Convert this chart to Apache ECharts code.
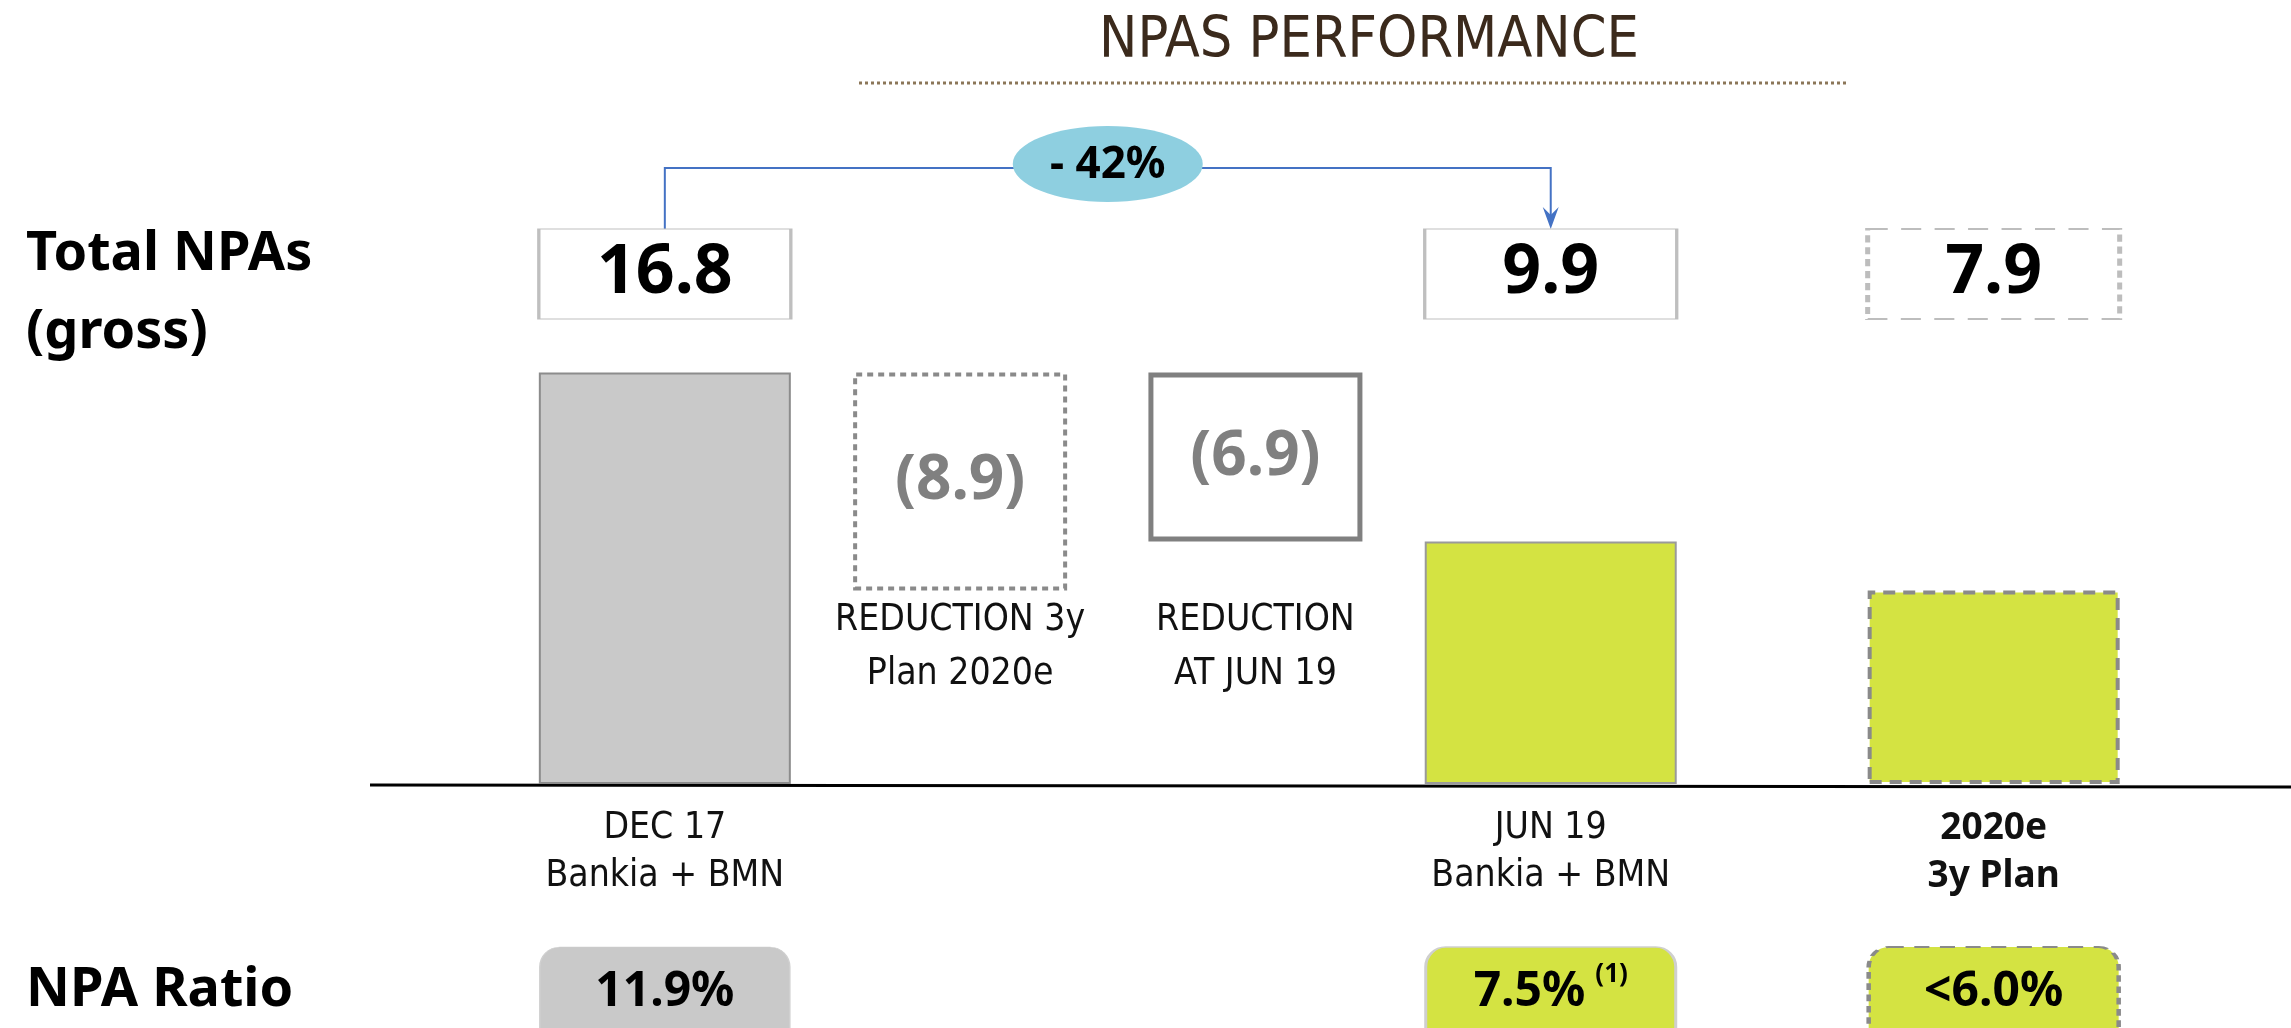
<!DOCTYPE html>
<html>
<head>
<meta charset="utf-8">
<title>NPAs performance</title>
<script src="https://cdn.jsdelivr.net/npm/echarts@6/dist/echarts.min.js"></script>
<style>
  html, body { margin: 0; padding: 0; background: #fff; }
  #chart { width: 2291px; height: 1028px; }
</style>
</head>
<body>
<div id="chart"></div>
<script>
// ============ Data ============
const periods = ['DEC 17\nBankia + BMN', 'JUN 19\nBankia + BMN', '2020e\n3y Plan']
const totalNPAs = [16.8, 9.9, 7.9]
const reductionLabels = ['REDUCTION 3y\nPlan 2020e', 'REDUCTION\nAT JUN 19']
const reductions = [8.9, 6.9]
const npaRatio = ['11.9%', '7.5%', '<6.0%']
const ratioNotes = ['', '(1)', '']
const changeLabel = '- 42%'

// ============ Layout ============
// bars sit on a 10-slot band axis so the uneven spacing of the slide is kept
const SLOTS = 10
const periodSlots = [0, 6, 9]
const reductionSlots = [2, 4]
const PLOT_LEFT = 591
const PLOT_WIDTH = 1476.5
const BASE_Y = 784
const Y_MAX = 20
const UNIT_PX = 24.5

const NARROW = "'Liberation Sans Narrow', 'DejaVu Sans Condensed', sans-serif"
const BOLD = "'Noto Sans', 'DejaVu Sans', sans-serif"

const GREY = '#c9c9c9'
const GREEN = '#d4e342'

// rounded box used for the NPA ratio pills (runs off the bottom edge)
const ROUND_BOX = 'path://M20,0 H230 A20,20 0 0 1 250,20 V90 A20,20 0 0 1 230,110 H20 A20,20 0 0 1 0,90 V20 A20,20 0 0 1 20,0 Z'

const periodBarStyle = [
  { color: GREY, borderColor: '#8c8c8c', borderWidth: 2 },
  { color: GREEN, borderColor: '#9a9a9a', borderWidth: 2 },
  { color: GREEN, borderColor: '#8a8a8a', borderWidth: 4, borderType: [12, 8] },
]
const reductionStyle = [
  { color: '#fff', borderColor: '#8a8a8a', borderWidth: 4, borderType: [6, 5] },
  { color: '#fff', borderColor: '#808080', borderWidth: 5 },
]
const valueBoxStyle = [
  { color: '#fff', borderColor: '#bfbfbf', borderWidth: 2, opacity: 1 },
  { color: '#fff', borderColor: '#bfbfbf', borderWidth: 2, opacity: 1 },
  { color: '#fff', borderColor: '#bdbdbd', borderWidth: 3, borderType: [12, 8], opacity: 1 },
]
const ratioBoxStyle = [
  { color: GREY, borderColor: '#d0d0d0', borderWidth: 1, opacity: 1 },
  { color: GREEN, borderColor: '#cfcfcf', borderWidth: 2, opacity: 1 },
  { color: GREEN, borderColor: '#8a8a8a', borderWidth: 3, borderType: [10, 7], opacity: 1 },
]

function slotData(slots, labels, styles) {
  const arr = Array.from({ length: SLOTS }, () => '')
  slots.forEach((s, i) => {
    arr[s] = styles ? { value: labels[i], textStyle: styles[i] } : labels[i]
  })
  return arr
}

const hiddenCategory = (gridIndex) => ({
  type: 'category',
  gridIndex,
  data: slotData([], []),
  axisLine: { show: false },
  axisTick: { show: false },
  axisLabel: { show: false },
})
const hiddenValue = (gridIndex, max) => ({
  type: 'value',
  gridIndex,
  min: 0,
  max,
  show: false,
  splitLine: { show: false },
})

const chart = echarts.init(document.getElementById('chart'))

chart.setOption({
  animation: false,
  grid: [
    { left: PLOT_LEFT, width: PLOT_WIDTH, top: BASE_Y - Y_MAX * UNIT_PX, height: Y_MAX * UNIT_PX },
    { left: PLOT_LEFT, width: PLOT_WIDTH, top: 229, height: 90 },
    { left: PLOT_LEFT, width: PLOT_WIDTH, top: 947, height: 81 },
  ],
  xAxis: [
    {
      type: 'category',
      gridIndex: 0,
      position: 'bottom',
      data: slotData(periodSlots, periods, [{}, {}, { fontWeight: 'bold', fontFamily: BOLD, fontSize: 37 }]),
      axisLine: { show: false, onZero: false },
      axisTick: { show: false },
      axisLabel: {
        interval: 0,
        margin: 20,
        fontFamily: NARROW,
        fontSize: 37,
        lineHeight: 48,
        color: '#111',
      },
    },
    {
      type: 'category',
      gridIndex: 0,
      position: 'bottom',
      offset: -193,
      data: slotData(reductionSlots, reductionLabels),
      axisLine: { show: false, onZero: false },
      axisTick: { show: false },
      axisLabel: {
        interval: 0,
        margin: 2,
        fontFamily: NARROW,
        fontSize: 37,
        lineHeight: 54,
        color: '#111',
      },
    },
    hiddenCategory(1),
    hiddenCategory(2),
  ],
  yAxis: [hiddenValue(0, Y_MAX), hiddenValue(1, 1), hiddenValue(2, 1)],
  series: [
    {
      name: 'Total NPAs',
      type: 'bar',
      xAxisIndex: 0,
      yAxisIndex: 0,
      barWidth: 252,
      clip: false,
      data: totalNPAs.map((v, i) => ({ value: [periodSlots[i], v], itemStyle: periodBarStyle[i] })),
    },
    {
      name: 'base',
      type: 'bar',
      xAxisIndex: 1,
      yAxisIndex: 0,
      stack: 'fall',
      barWidth: 214,
      clip: false,
      itemStyle: { color: 'transparent' },
      data: reductions.map((r, i) => [reductionSlots[i], +(totalNPAs[0] - r).toFixed(1)]),
    },
    {
      name: 'Reduction',
      type: 'bar',
      xAxisIndex: 1,
      yAxisIndex: 0,
      stack: 'fall',
      barWidth: 214,
      clip: false,
      data: reductions.map((r, i) => ({ value: [reductionSlots[i], r], itemStyle: reductionStyle[i] })),
      label: {
        show: true,
        position: 'inside',
        formatter: (p) => '(' + reductions[p.dataIndex].toFixed(1) + ')',
        fontFamily: BOLD,
        fontWeight: 'bold',
        fontSize: 62,
        color: '#808080',
      },
    },
    {
      name: 'Total NPAs box',
      type: 'scatter',
      xAxisIndex: 2,
      yAxisIndex: 1,
      clip: false,
      symbol: 'rect',
      symbolSize: [252, 90],
      data: totalNPAs.map((v, i) => ({ value: [periodSlots[i], 0.5], itemStyle: valueBoxStyle[i] })),
      label: {
        show: true,
        position: 'inside',
        formatter: (p) => totalNPAs[p.dataIndex].toFixed(1),
        fontFamily: BOLD,
        fontWeight: 'bold',
        fontSize: 68,
        color: '#000',
      },
    },
    {
      name: 'NPA Ratio',
      type: 'scatter',
      xAxisIndex: 3,
      yAxisIndex: 2,
      clip: false,
      symbol: ROUND_BOX,
      symbolSize: [250, 110],
      symbolOffset: [0, 14.5],
      data: npaRatio.map((v, i) => ({ value: [periodSlots[i], 0.5], itemStyle: ratioBoxStyle[i] })),
      label: {
        show: true,
        position: 'inside',
        offset: [0, -10],
        formatter: (p) => {
          const note = ratioNotes[p.dataIndex]
          return '{a|' + npaRatio[p.dataIndex] + '}' + (note ? '{b|' + note + '}' : '')
        },
        rich: {
          a: { fontFamily: BOLD, fontWeight: 'bold', fontSize: 48, color: '#000', lineHeight: 60 },
          b: { fontFamily: BOLD, fontWeight: 'bold', fontSize: 26, color: '#000', verticalAlign: 'top', padding: [0, 0, 0, 10] },
        },
      },
    },
  ],
})

// ============ Annotations ============
const xFrom = chart.convertToPixel({ xAxisIndex: 0 }, periodSlots[0])
const xTo = chart.convertToPixel({ xAxisIndex: 0 }, periodSlots[1])
const baseY = chart.convertToPixel({ yAxisIndex: 0 }, 0)
const linkY = 168
const boxTop = 229

chart.setOption({
  graphic: [
    {
      type: 'text',
      x: 1369,
      y: 42,
      style: {
        text: 'NPAS PERFORMANCE',
        align: 'center',
        verticalAlign: 'middle',
        fontFamily: NARROW,
        fontSize: 57,
        fill: '#3b2a1c',
      },
    },
    {
      type: 'line',
      shape: { x1: 859, y1: 83, x2: 1848, y2: 83 },
      style: { stroke: '#8b7658', lineWidth: 3, lineDash: [3, 3] },
    },
    {
      type: 'text',
      left: 26,
      top: 216,
      style: {
        text: 'Total NPAs\n(gross)',
        fontFamily: BOLD,
        fontWeight: 'bold',
        fontSize: 54,
        lineHeight: 78,
        fill: '#000',
      },
    },
    {
      type: 'text',
      left: 26,
      top: 952,
      style: {
        text: 'NPA Ratio',
        fontFamily: BOLD,
        fontWeight: 'bold',
        fontSize: 54,
        lineHeight: 78,
        fill: '#000',
      },
    },
    {
      type: 'line',
      shape: { x1: 370, y1: baseY + 1, x2: 2291, y2: baseY + 3 },
      style: { stroke: '#000', lineWidth: 3 },
    },
    {
      type: 'polyline',
      shape: { points: [[xFrom, boxTop], [xFrom, linkY], [xTo, linkY], [xTo, boxTop - 6]] },
      style: { stroke: '#4472c4', lineWidth: 2, fill: null },
    },
    {
      type: 'polygon',
      shape: { points: [[xTo, boxTop], [xTo - 8, boxTop - 22], [xTo, boxTop - 14], [xTo + 8, boxTop - 22]] },
      style: { fill: '#4472c4' },
    },
    {
      type: 'ellipse',
      shape: { cx: (xFrom + xTo) / 2, cy: 164, rx: 95, ry: 38 },
      style: { fill: '#8ecfe0' },
    },
    {
      type: 'text',
      x: (xFrom + xTo) / 2,
      y: 165,
      style: {
        text: changeLabel,
        align: 'center',
        verticalAlign: 'middle',
        fontFamily: BOLD,
        fontWeight: 'bold',
        fontSize: 44,
        fill: '#000',
      },
    },
  ],
})
</script>
</body>
</html>
